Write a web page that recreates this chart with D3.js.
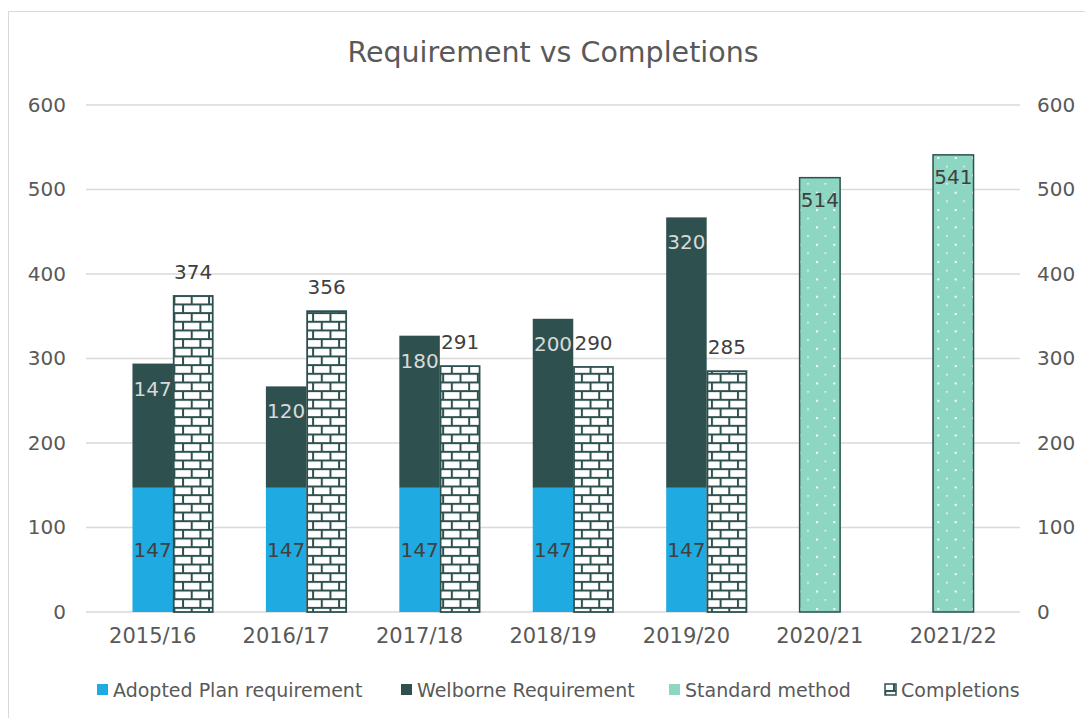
<!DOCTYPE html>
<meta charset="utf-8">
<title>Requirement vs Completions</title>
<script src="https://cdn.jsdelivr.net/npm/d3@7"></script>
<style>
    body { margin: 0; background: #fff; }
    svg text { font-family: "DejaVu Sans", sans-serif; fill: #595959; }
</style>
<body>
<div id="chart"></div>
<script>
    // chart values
    var years = ["2015/16", "2016/17", "2017/18", "2018/19", "2019/20", "2020/21", "2021/22"];
    var adopted = [147, 147, 147, 147, 147, null, null];
    var welborne = [147, 120, 180, 200, 320, null, null];
    var standard = [null, null, null, null, null, 514, 541];
    var completions = [374, 356, 291, 290, 285, null, null];
    var ticks = [0, 100, 200, 300, 400, 500, 600];
    var seriesNames = ["Adopted Plan requirement", "Welborne Requirement", "Standard method", "Completions"];

    var W = 1085, H = 718;
    var blue = "#1fabe2", dark = "#2e514f", light = "#8dd6c1";

    var svg = d3.select("#chart").append("svg").attr("width", W).attr("height", H);

    // patterns
    var defs = svg.append("defs");
    var t = 17.34, h = t / 2;
    var brick = defs.append("pattern").attr("id", "brick")
        .attr("patternUnits", "userSpaceOnUse").attr("width", t).attr("height", t);
    brick.append("rect").attr("width", t).attr("height", t).attr("fill", "#fff");
    brick.append("rect").attr("y", 0).attr("width", t).attr("height", 2).attr("fill", dark);
    brick.append("rect").attr("y", h).attr("width", t).attr("height", 2).attr("fill", dark);
    brick.append("rect").attr("x", 0).attr("y", 0).attr("width", 2).attr("height", h).attr("fill", dark);
    brick.append("rect").attr("x", h).attr("y", h).attr("width", 2).attr("height", h).attr("fill", dark);

    var dots = defs.append("pattern").attr("id", "dots")
        .attr("patternUnits", "userSpaceOnUse").attr("width", t).attr("height", t);
    dots.append("rect").attr("width", t).attr("height", t).attr("fill", light);
    dots.append("rect").attr("x", 1).attr("y", 1).attr("width", 2).attr("height", 2).attr("fill", "#fff");
    dots.append("rect").attr("x", 1 + h).attr("y", 1 + h).attr("width", 1.5).attr("height", 1.5).attr("fill", "#fff");

    // outer border
    svg.append("rect").attr("x", 8.5).attr("y", 11.5).attr("width", W + 10).attr("height", H + 10)
        .attr("fill", "none").attr("stroke", "#d9d9d9");

    svg.append("text").attr("x", 553).attr("y", 62).attr("text-anchor", "middle")
        .style("font-size", "28.5px").text("Requirement vs Completions");

    var x = d3.scaleBand().domain(years).range([86, 1020]).padding(0);
    var y = d3.scaleLinear().domain([0, 600]).range([612, 105]);
    var bw = 40.5;

    // gridlines
    svg.append("g").selectAll("line").data(ticks).enter().append("line")
        .attr("x1", 86).attr("x2", 1020)
        .attr("y1", function (d) { return y(d); }).attr("y2", function (d) { return y(d); })
        .attr("stroke", "#d9d9d9").attr("stroke-width", 1.3);

    var leftAxis = svg.append("g").attr("transform", "translate(66,0)")
        .call(d3.axisLeft(y).tickValues(ticks).tickSize(0).tickPadding(0));
    var rightAxis = svg.append("g").attr("transform", "translate(1037,0)")
        .call(d3.axisRight(y).tickValues(ticks).tickSize(0).tickPadding(0));
    var xAxis = svg.append("g").attr("transform", "translate(0,612)")
        .call(d3.axisBottom(x).tickSize(0).tickPadding(16));
    [leftAxis, rightAxis].forEach(function (a) {
        a.select(".domain").remove();
        a.selectAll("text").style("font-size", "20px").attr("fill", "#595959");
    });
    xAxis.select(".domain").remove();
    xAxis.selectAll("text").style("font-size", "21px").attr("fill", "#595959");

    var idx = d3.range(years.length);
    var cx = function (i) { return x(years[i]) + x.bandwidth() / 2; };

    // adopted plan
    svg.append("g").selectAll("rect").data(idx.filter(function (i) { return adopted[i] != null; }))
        .enter().append("rect")
        .attr("x", function (i) { return cx(i) - bw / 2; }).attr("width", bw)
        .attr("y", function (i) { return y(adopted[i]); })
        .attr("height", function (i) { return y(0) - y(adopted[i]); })
        .attr("fill", blue);

    // welborne stacked on top
    svg.append("g").selectAll("rect").data(idx.filter(function (i) { return welborne[i] != null; }))
        .enter().append("rect")
        .attr("x", function (i) { return cx(i) - bw / 2; }).attr("width", bw)
        .attr("y", function (i) { return y(adopted[i] + welborne[i]); })
        .attr("height", function (i) { return y(adopted[i]) - y(adopted[i] + welborne[i]); })
        .attr("fill", dark);

    // standard method
    svg.append("g").selectAll("rect").data(idx.filter(function (i) { return standard[i] != null; }))
        .enter().append("rect")
        .attr("x", function (i) { return cx(i) - bw / 2; }).attr("width", bw)
        .attr("y", function (i) { return y(standard[i]); })
        .attr("height", function (i) { return y(0) - y(standard[i]); })
        .attr("fill", "url(#dots)").attr("stroke", dark).attr("stroke-width", 1.5);

    // completions
    svg.append("g").selectAll("rect").data(idx.filter(function (i) { return completions[i] != null; }))
        .enter().append("rect")
        .attr("x", function (i) { return cx(i) + bw / 2 + 0.75; }).attr("width", bw - 1.5)
        .attr("y", function (i) { return y(completions[i]); })
        .attr("height", function (i) { return y(0) - y(completions[i]); })
        .attr("fill", "url(#brick)").attr("stroke", dark).attr("stroke-width", 1.8);

    // data labels
    var labels = svg.append("g").style("font-size", "20px").attr("text-anchor", "middle");
    idx.forEach(function (i) {
        if (adopted[i] != null) {
            labels.append("text").attr("x", cx(i)).attr("y", y(adopted[i] / 2) + 7)
                .style("fill", "#404040").text(adopted[i]);
        }
        if (welborne[i] != null) {
            labels.append("text").attr("x", cx(i)).attr("y", y(adopted[i] + welborne[i]) + 32)
                .style("fill", "#d9d9d9").text(welborne[i]);
        }
        if (standard[i] != null) {
            labels.append("text").attr("x", cx(i)).attr("y", y(standard[i]) + 29)
                .style("fill", "#404040").text(standard[i]);
        }
        if (completions[i] != null) {
            labels.append("text").attr("x", cx(i) + bw).attr("y", y(completions[i]) - 17)
                .style("fill", "#404040").text(completions[i]);
        }
    });

    // legend
    var legendItems = [
        { name: seriesNames[0], fill: blue, x: 97 },
        { name: seriesNames[1], fill: dark, x: 401 },
        { name: seriesNames[2], fill: light, x: 669 },
        { name: seriesNames[3], fill: "url(#brick)", x: 885, stroke: dark }
    ];
    var lg = svg.append("g").attr("transform", "translate(0,690)");
    legendItems.forEach(function (d) {
        lg.append("rect").attr("x", d.x).attr("y", -6).attr("width", 11).attr("height", 11)
            .attr("fill", d.fill).attr("stroke", d.stroke || "none").attr("stroke-width", 1.5);
        lg.append("text").attr("x", d.x + 16).attr("y", 6.5).style("font-size", "19px").text(d.name);
    });
</script>
</body>
